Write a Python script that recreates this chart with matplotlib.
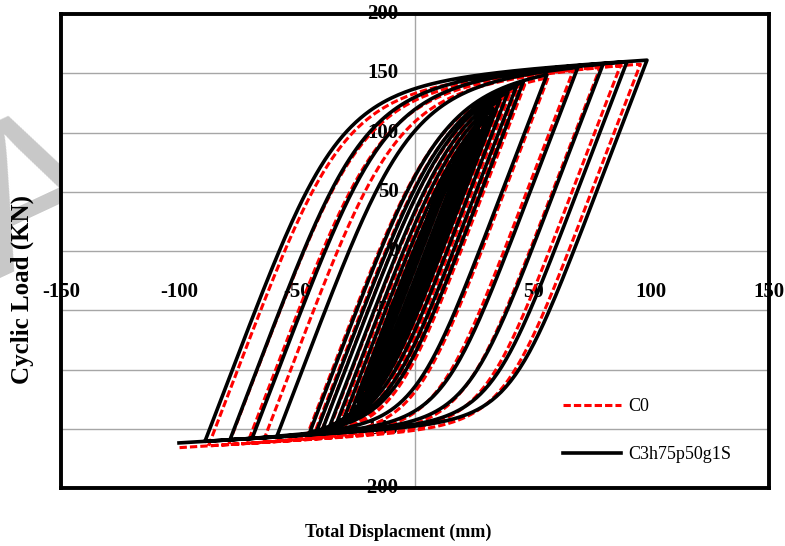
import numpy as np
import matplotlib
matplotlib.use("Agg")
import matplotlib.pyplot as plt
from matplotlib.lines import Line2D

# reversal displacements (mm), in test order:
# +pos[k] then neg[k], then +pos[k+1] ...
c3_pos = [3, 6, 9, 12, 15, 18, 21, 24, 27, 30.5, 33, 36, 39.4, 43, 45.8, 55.9, 69, 79.7, 89.8, 98.3]
c3_neg = [-3, -6, -9, -12, -15, -18, -21, -24, -27, -30, -33, -36, -39, -41.5, -44.5, -58.5, -69, -78.4, -89, -100]
c0_pos = [3, 6, 9, 12, 15, 18, 21, 24, 27, 30, 33.5, 36.5, 40, 43.5, 46.5, 56.4, 67, 78.4, 87, 95.5]
c0_neg = [-3, -6, -9, -12, -15, -18, -21, -24, -27, -30, -33, -36.5, -40, -43, -46, -64.4, -71, -79, -87.5, -100]

# loop shape: yield load (kN) up / down, hardening, stiffness
c3_fit = dict(fy_up=150, fy_dn=150, kh=0.12, k0=5.2)
c0_fit = dict(fy_up=147, fy_dn=154, kh=0.12, k0=5.2)

x_ticks = [-150, -100, -50, 50, 100, 150]
y_ticks = [200, 150, 100, 50, 0, -50, -100, -150, -200]


def branch(xr, fr, xt, s, fy, kh, k0, r):
    # Menegotto-Pinto branch from reversal (xr, fr) to displacement xt
    x0 = (s * fy - fr + k0 * xr) / (k0 - kh)
    f0 = s * fy + kh * x0
    b = kh / k0
    x = np.linspace(xr, xt, 200)
    e = (x - xr) / (x0 - xr)
    fs = b * e + (1 - b) * e / (1 + np.abs(e) ** r) ** (1 / r)
    return x, fr + fs * (f0 - fr)


def loops(pos, neg, fit):
    xs, fs = [np.array([0.0])], [np.array([0.0])]
    xr, fr = 0.0, 0.0
    for p, n in zip(pos, neg):
        x, f = branch(xr, fr, p, 1, fit["fy_up"], fit["kh"], fit["k0"], 4)
        xs.append(x); fs.append(f)
        xr, fr = x[-1], f[-1]
        x, f = branch(xr, fr, n, -1, fit["fy_dn"], fit["kh"], fit["k0"], 6)
        xs.append(x); fs.append(f)
        xr, fr = x[-1], f[-1]
    return np.concatenate(xs), np.concatenate(fs)


fig = plt.figure(figsize=(7.85, 5.46), dpi=100)

# faint watermark letter, mostly hidden behind the plot area
fig.text(-4 / 785, 1 - 280 / 546, "A", color="#c8c8c8", fontsize=150,
         family="Liberation Sans", rotation=25, rotation_mode="anchor",
         ha="left", va="baseline", zorder=-1)

ax = fig.add_axes([61 / 785, 1 - 488 / 546, 708 / 785, 474 / 546])
ax.set_facecolor("white")
ax.set_xlim(-150, 150)
ax.set_ylim(-200, 200)
ax.set_xticks([])
ax.set_yticks([])
for sp in ax.spines.values():
    sp.set_linewidth(2.8)
    sp.set_color("black")

for yv in [-150, -100, -50, 0, 50, 100, 150]:
    ax.axhline(yv, color="#a6a6a6", lw=1.0, zorder=1)
ax.axvline(0, color="#a6a6a6", lw=1.0, zorder=1)

tick_font = dict(family="Liberation Serif", fontweight="bold", fontsize=15, zorder=2)
for xv in x_ticks:
    ax.text(xv, -34.6, str(xv), ha="center", va="center", **tick_font)
for yv in y_ticks:
    ax.text(-7.0, yv, str(yv), ha="right", va="center", **tick_font)

x0, f0 = loops(c0_pos, c0_neg, c0_fit)
x3, f3 = loops(c3_pos, c3_neg, c3_fit)
ax.plot(x0, f0, color="#ff0000", lw=2.2, dashes=(2.4, 1.0), zorder=3, clip_on=False)
ax.plot(x3, f3, color="black", lw=2.6, zorder=4, clip_on=False)

handles = [Line2D([], [], color="#ff0000", lw=2.2, dashes=(2.4, 1.0)),
           Line2D([], [], color="black", lw=2.6)]
fig.legend(handles, ["C0", "C3h75p50g1S"], loc="upper left",
           bbox_to_anchor=(554 / 785, 1 - 389 / 546), frameon=False,
           borderpad=0, handlelength=3.2, handletextpad=0.4, labelspacing=1.73,
           prop=dict(family="Liberation Serif", size=13))

fig.text(398 / 785, 1 - 532 / 546, "Total Displacment (mm)", ha="center", va="center",
         family="Liberation Serif", fontweight="bold", fontsize=13)
fig.text(22 / 785, 1 - 290 / 546, "Cyclic Load (KN)", ha="center", va="center",
         rotation=90, family="Liberation Serif", fontweight="bold", fontsize=18)

fig.savefig("out.png", dpi=100)
